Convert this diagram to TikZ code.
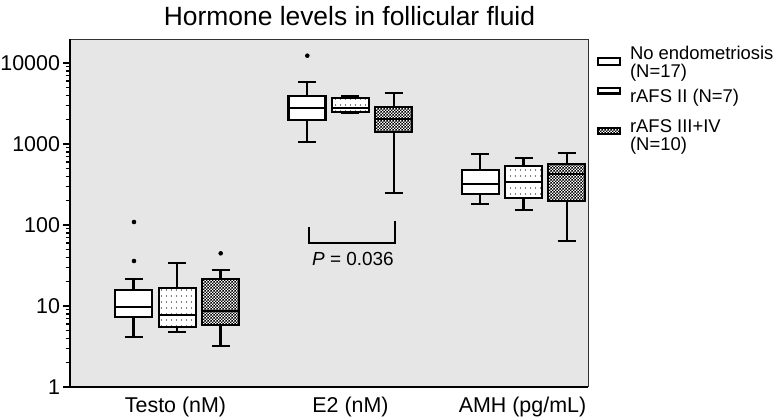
\documentclass[tikz,border=0pt]{standalone}
\usepackage{fontspec}
\setmainfont{Liberation Sans}
\usetikzlibrary{patterns}

\pgfdeclarepatternformonly{sparsedots}{\pgfqpoint{0pt}{0pt}}{\pgfqpoint{5pt}{6pt}}{\pgfqpoint{5pt}{6pt}}{%
  \pgfpathcircle{\pgfqpoint{2.5pt}{3pt}}{0.6pt}\pgfusepath{fill}}
\pgfdeclarepatternformonly{checker}{\pgfqpoint{0pt}{0pt}}{\pgfqpoint{3pt}{3pt}}{\pgfqpoint{3pt}{3pt}}{%
  \pgfpathrectangle{\pgfqpoint{0pt}{0pt}}{\pgfqpoint{1.5pt}{1.5pt}}%
  \pgfpathrectangle{\pgfqpoint{1.5pt}{1.5pt}}{\pgfqpoint{1.5pt}{1.5pt}}\pgfusepath{fill}}

\definecolor{panelgray}{HTML}{E6E6E6}

\tikzset{
  grpA/.style={fill=white},
  grpB/.style={preaction={fill=white},pattern=sparsedots},
  grpC/.style={preaction={fill=white},pattern=checker},
  ticklab/.style={anchor=east,inner sep=0pt,font=\fontsize{21.5}{24}\selectfont},
  catlab/.style={anchor=base,inner sep=0pt,font=\fontsize{21.5}{24}\selectfont},
  leglab/.style={anchor=base west,inner sep=0pt,align=left,font=\fontsize{18.5}{18}\selectfont},
}

\begin{document}
\begin{tikzpicture}[x=1bp,y=-1bp,line width=2.1bp]
  \useasboundingbox (0,0) rectangle (780,418);
  \node[anchor=base,inner sep=0pt,font=\fontsize{26.5}{30}\selectfont] (title)
    at (349.5,25.5) {Hormone levels in follicular fluid};

  % panel and axes
  \fill[panelgray] (70,39) rectangle (588,387);
  \draw[line width=.8bp,black!80] (70,39) -- (588,39) -- (588,387);
  \foreach \d in {0,...,3}
    \foreach \m in {2,...,9}
      \draw[line width=1.3bp] (66,{387-81*(\d+log10(\m))}) -- (70,{387-81*(\d+log10(\m))});
  \foreach \d/\lab in {0/1,1/10,2/100,3/1000,4/10000}
    {
      \draw (63,387-81*\d) -- (70,387-81*\d);
      \node[ticklab] (tick\d) at (61,387-81*\d) {\lab};
    }
  \draw (70,39) -- (70,387) -- (588,387);

  % boxes: centre / upper whisker / Q3 / median / Q1 / lower whisker
  \foreach \cx/\uw/\qt/\md/\qb/\lw/\grp in {
      133.5/279/289.7/307.3/316.7/337/grpA,
      177.3/263.3/287.7/315/326.7/332/grpB,
      220.5/270/279.3/310.7/325/346.3/grpC,
      307/82/96.3/107.7/120/142/grpA,
      350.3/96/97.7/108.3/112.3/112.7/grpB,
      393.7/93/107/119/131.7/193.3/grpC,
      480.2/153.7/170.3/183.7/194/204/grpA,
      523.5/158.3/166.3/182.3/198.3/210/grpB,
      566.7/153.3/164/174/201/240.7/grpC}
    {
      \draw (\cx,\uw) -- (\cx,\lw);
      \draw (\cx-9,\uw) -- (\cx+9,\uw);
      \draw (\cx-9,\lw) -- (\cx+9,\lw);
      \draw[\grp] (\cx-18.5,\qt) rectangle (\cx+18.5,\qb);
      \draw (\cx-18.5,\md) -- (\cx+18.5,\md);
    }
  \fill (134,222) circle (2.3);
  \fill (134,261) circle (2.3);
  \fill (220.7,253.3) circle (2.3);
  \fill (307.3,55.7) circle (2.3);

  % significance bracket
  \draw (309,227) -- (309,243) -- (395,243) -- (395,221);
  \node[anchor=base,inner sep=0pt,font=\fontsize{19}{22}\selectfont] (pval)
    at (353,265) {\textit{P} = 0.036};

  \node[catlab] (testo) at (175.5,412.5) {Testo (nM)};
  \node[catlab] (etwo) at (350.5,412.5) {E2 (nM)};
  \node[catlab] (amh) at (522.5,412.5) {AMH (pg/mL)};

  % legend (base = last line)
  \draw[grpA] (598.3,58.3) rectangle (620,65);
  \draw[grpB] (598.3,88.3) rectangle (620,93.5);
  \draw[grpC] (598.3,128.3) rectangle (620,134);
  \node[leglab] (legnone) at (629,77.5) {No endometriosis\\(N=17)};
  \node[leglab] (legtwo) at (629,102.5) {rAFS II (N=7)};
  \node[leglab] (legthree) at (629,150.5) {rAFS III+IV\\(N=10)};
\end{tikzpicture}
\end{document}
